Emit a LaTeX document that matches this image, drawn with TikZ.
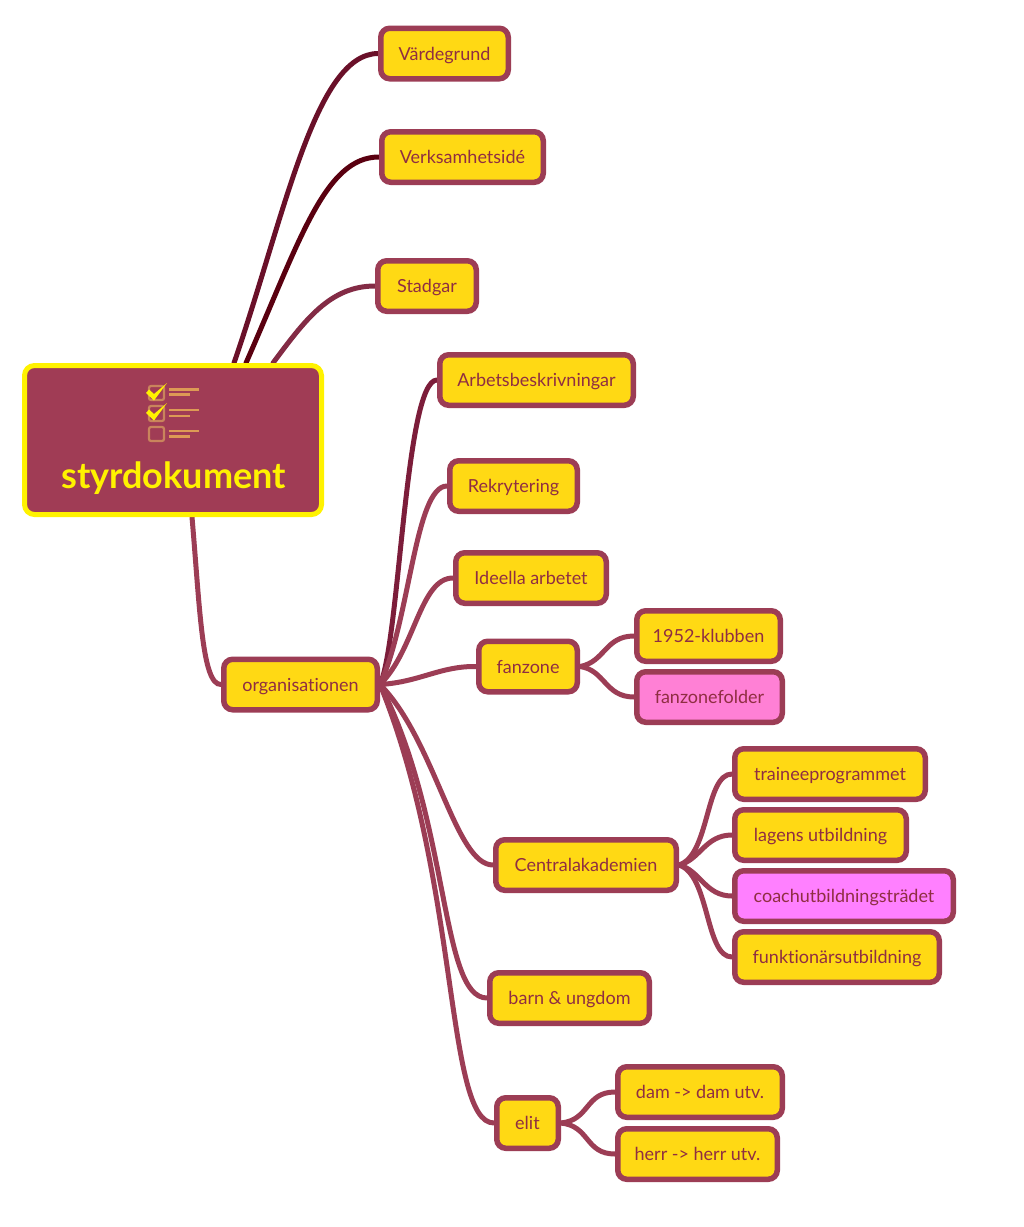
\documentclass[tikz,border=0pt]{standalone}
\usepackage{fontspec}
\setmainfont{Lato}[Ligatures=NoCommon]
\usetikzlibrary{backgrounds}
\definecolor{edge}{HTML}{9C3D55}
\definecolor{fillY}{HTML}{FFD914}
\definecolor{txt}{HTML}{8F2E42}
\definecolor{pinkA}{HTML}{FF80D5}
\definecolor{pinkB}{HTML}{FF80FF}
\definecolor{cA}{HTML}{6A1029}
\definecolor{cB}{HTML}{5A0010}
\definecolor{cC}{HTML}{832B45}
\definecolor{cD}{HTML}{7C1D3A}
\definecolor{rootfill}{HTML}{A03C55}
\definecolor{iconbox}{HTML}{C9845C}
\definecolor{iconline}{HTML}{DD9A55}
\tikzset{
 box/.style={draw=edge,line width=5.5pt,fill=fillY,rounded corners=9pt,text=txt,inner sep=0pt,
   font=\fontsize{18}{20}\selectfont,minimum height=50.5pt,text height=17pt,text depth=4pt},
 link/.style={draw=edge,line width=5pt,line cap=round},
 icobox/.style={draw=iconbox,line width=2.2pt,rounded corners=2pt},
 icoline/.style={draw=iconline,line width=2.2pt},
 icocheck/.style={fill=yellow}
}
\begin{document}
\begin{tikzpicture}[x=1pt,y=-1pt]
\useasboundingbox (0,0) rectangle (1024,1227);
% nodes
\node[box,minimum width=297pt,minimum height=149pt,fill=rootfill,draw=yellow,line width=5pt,rounded corners=10pt] (root) at (173,440) {};
\node[box,minimum width=127.5pt] (vard) at (444.5,53.5) {Värdegrund};
\node[box,minimum width=161.5pt] (verk) at (462.5,157) {Verksamhetsidé};
\node[box,minimum width=98.5pt] (stad) at (427,286) {Stadgar};
\node[box,minimum width=193.5pt] (arb) at (536.5,380) {Arbetsbeskrivningar};
\node[box,minimum width=127.5pt] (rek) at (513.5,486) {Rekrytering};
\node[box,minimum width=150.5pt] (ide) at (531,578) {Ideella arbetet};
\node[box,minimum width=98.5pt] (fan) at (528,666.5) {fanzone};
\node[box,minimum width=143.5pt] (klub) at (708.5,636) {1952-klubben};
\node[box,minimum width=145.5pt,fill=pinkA] (fold) at (709.5,697) {fanzonefolder};
\node[box,minimum width=153.5pt] (org) at (300.5,684.5) {organisationen};
\node[box,minimum width=180.5pt] (cent) at (586,865) {Centralakademien};
\node[box,minimum width=190.5pt] (trai) at (830,774) {traineeprogrammet};
\node[box,minimum width=171.5pt] (lag) at (820.5,835) {lagens utbildning};
\node[box,minimum width=218.5pt,fill=pinkB] (coa) at (844,896) {coachutbildningsträdet};
\node[box,minimum width=204.5pt] (fun) at (837,957) {funktionärsutbildning};
\node[box,minimum width=159.5pt] (barn) at (569.5,998) {barn \& ungdom};
\node[box,minimum width=61.5pt] (elit) at (527.5,1123) {elit};
\node[box,minimum width=164.5pt] (dam) at (700,1092) {dam -> dam utv.};
\node[box,minimum width=159.5pt] (herr) at (697.5,1154) {herr -> herr utv.};
\node[font=\fontsize{36}{38}\selectfont\bfseries,text=yellow,inner sep=0pt] (title) at (173.5,478) {styrdokument};
% icon
\draw[icobox] (149,386) rectangle (164,400);
\draw[icobox] (149,406) rectangle (164,421);
\draw[icobox] (149,427) rectangle (164,441);
\draw[icoline] (169,389.5) -- (198.5,389.5);
\draw[icoline] (169,394.5) -- (190,394.5);
\draw[icoline] (169,410) -- (198.5,410);
\draw[icoline] (169,416) -- (190,416);
\draw[icoline] (169,431) -- (198.5,431);
\draw[icoline] (169,436.5) -- (190,436.5);
\fill[icocheck] (146,393) -- (154,400.5) -- (167,383) -- (154,394) -- (149,389.5) -- cycle;
\fill[icocheck] (146,413) -- (154,420.5) -- (167,403) -- (154,414) -- (149,409.5) -- cycle;
% connectors
\begin{scope}[on background layer]
\fill[white] (0,0) rectangle (1024,1227);
\draw[link,draw=cA] ([xshift=61pt]root.north) .. controls (285,215) and (315,54) .. (vard.west);
\draw[link,draw=cB] ([xshift=73pt]root.north) .. controls (300,240) and (325,157) .. (verk.west);
\draw[link,draw=cC] ([xshift=100pt]root.north) .. controls (305,320) and (330,286) .. (stad.west);
\draw[link] ([xshift=19pt]root.south) .. controls (200,610) and (202,685) .. (org.west);
\draw[link,draw=cD] (org.east) .. controls (400,640) and (405,380) .. (arb.west);
\draw[link] (org.east) .. controls (410,620) and (415,486) .. (rek.west);
\draw[link] (org.east) .. controls (415,650) and (420,578) .. (ide.west);
\draw[link] (org.east) .. controls (420,682) and (440,666) .. (fan.west);
\draw[link] (org.east) .. controls (435,740) and (455,865) .. (cent.west);
\draw[link] (org.east) .. controls (450,820) and (440,998) .. (barn.west);
\draw[link] (org.east) .. controls (460,880) and (445,1123) .. (elit.west);
\draw[link] (fan.east) .. controls (605,662) and (605,636) .. (klub.west);
\draw[link] (fan.east) .. controls (605,670) and (605,697) .. (fold.west);
\draw[link] (cent.east) .. controls (710,855) and (705,774) .. (trai.west);
\draw[link] (cent.east) .. controls (700,860) and (705,835) .. (lag.west);
\draw[link] (cent.east) .. controls (700,870) and (705,896) .. (coa.west);
\draw[link] (cent.east) .. controls (710,875) and (705,957) .. (fun.west);
\draw[link] (elit.east) .. controls (590,1120) and (585,1092) .. (dam.west);
\draw[link] (elit.east) .. controls (590,1126) and (585,1154) .. (herr.west);
\end{scope}
\end{tikzpicture}
\end{document}
